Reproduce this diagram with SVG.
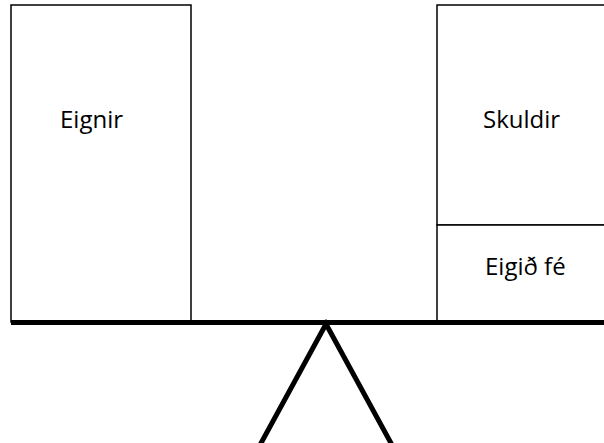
<svg xmlns="http://www.w3.org/2000/svg" width="604" height="443" viewBox="0 0 604 443">
<style>
.box{fill:#fff;stroke:#000;stroke-width:1.5}
.lbl{font-family:"Open Sans","Liberation Sans",sans-serif;font-size:24px;fill:#000}
.thick{stroke:#000;stroke-width:5;fill:none}
</style>
<rect width="604" height="443" fill="#fff"/>
<g id="eignir">
<rect class="box" x="11" y="5" width="180" height="317"/>
<text class="lbl" x="60" y="128">Eignir</text>
</g>
<g id="skuldir">
<path class="box" d="M605 5 H437 V225 H605"/>
<text class="lbl" x="483" y="128">Skuldir</text>
</g>
<g id="eigid-fe">
<path class="box" d="M605 225 H437 V322"/>
<text class="lbl" x="485" y="275">Eigið fé</text>
</g>
<g id="connectors">
<line class="thick" x1="11" y1="322.5" x2="604" y2="322.5"/>
<polyline class="thick" points="260,445 326,324 392,445"/>
</g>
</svg>
